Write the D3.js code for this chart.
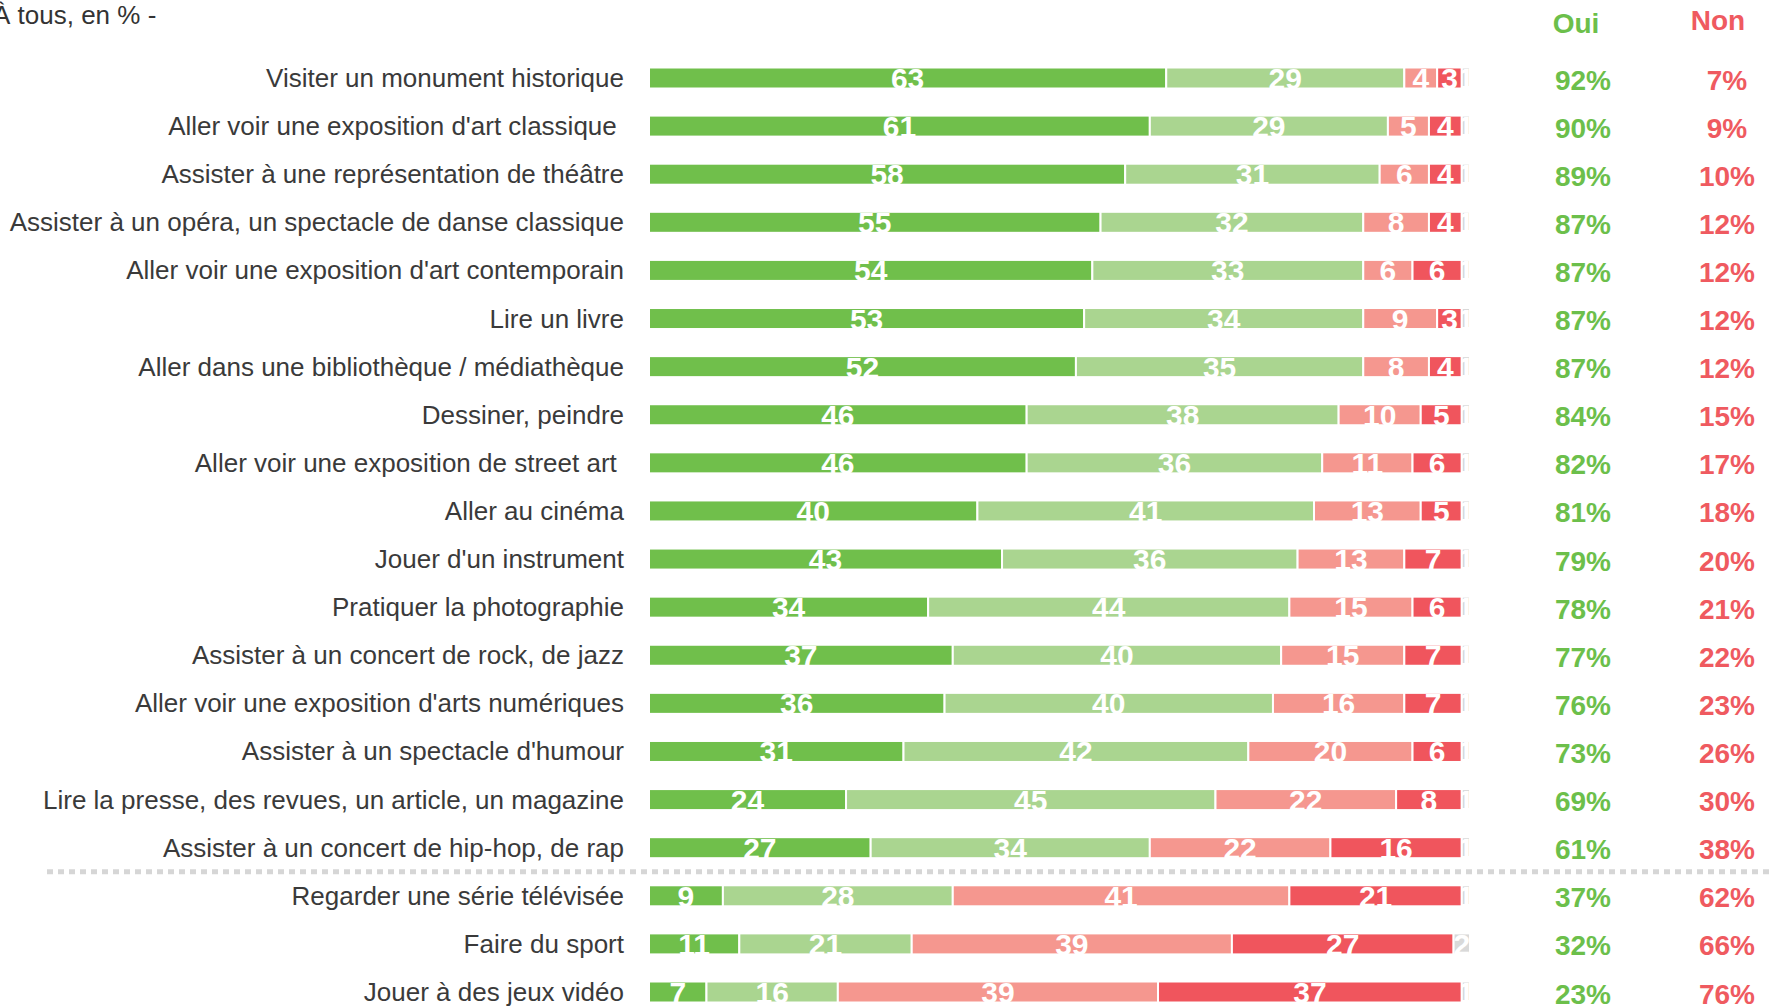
<!DOCTYPE html>
<html>
<head>
<meta charset="utf-8">
<script src="https://cdn.jsdelivr.net/npm/d3@7"></script>
<style>
  body { margin: 0; background: #fff; }
  svg { display: block; }
</style>
</head>
<body>
<svg id="chart" width="1773" height="1007"></svg>
<script>
const categories = [
    "Visiter un monument historique",
    "Aller voir une exposition d'art classique ",
    "Assister à une représentation de théâtre",
    "Assister à un opéra, un spectacle de danse classique",
    "Aller voir une exposition d'art contemporain",
    "Lire un livre",
    "Aller dans une bibliothèque / médiathèque",
    "Dessiner, peindre",
    "Aller voir une exposition de street art ",
    "Aller au cinéma",
    "Jouer d'un instrument",
    "Pratiquer la photographie",
    "Assister à un concert de rock, de jazz",
    "Aller voir une exposition d'arts numériques",
    "Assister à un spectacle d'humour",
    "Lire la presse, des revues, un article, un magazine",
    "Assister à un concert de hip-hop, de rap",
    "Regarder une série télévisée",
    "Faire du sport",
    "Jouer à des jeux vidéo"
];

// stacked segments: très envie, plutôt envie, plutôt pas, pas du tout, NSP
const ouiTout    = [63, 61, 58, 55, 54, 53, 52, 46, 46, 40, 43, 34, 37, 36, 31, 24, 27, 9, 11, 7];
const ouiPlutot  = [29, 29, 31, 32, 33, 34, 35, 38, 36, 41, 36, 44, 40, 40, 42, 45, 34, 28, 21, 16];
const nonPlutot  = [4, 5, 6, 8, 6, 9, 8, 10, 11, 13, 13, 15, 15, 16, 20, 22, 22, 41, 39, 39];
const nonPasDuTout = [3, 4, 4, 4, 6, 3, 4, 5, 6, 5, 7, 6, 7, 7, 6, 8, 16, 21, 27, 37];
const nsp        = [1, 1, 1, 1, 1, 1, 1, 1, 1, 1, 1, 1, 1, 1, 1, 1, 1, 1, 2, 1];

const totalOui = [92, 90, 89, 87, 87, 87, 87, 84, 82, 81, 79, 78, 77, 76, 73, 69, 61, 37, 32, 23];
const totalNon = [7, 9, 10, 12, 12, 12, 12, 15, 17, 18, 20, 21, 22, 23, 26, 30, 38, 62, 66, 76];

const series = [ouiTout, ouiPlutot, nonPlutot, nonPasDuTout, nsp];
const colors = ["#70bf4b", "#aad590", "#f5978f", "#f0555d", "#d9d9d9"];

const svg = d3.select("#chart");
const font = "'Liberation Sans', Arial, sans-serif";

const x = d3.scaleLinear().domain([0, 100]).range([649, 1470]);
const y = d3.scalePoint().domain(categories).range([78, 992]);
const barH = 21;

// title
svg.append("text")
    .attr("x", -7)
    .attr("y", 24)
    .attr("font-family", font)
    .attr("font-size", 26)
    .attr("fill", "#333")
    .text("À tous, en % -");

// headers
svg.append("text")
    .attr("x", 1576).attr("y", 33)
    .attr("text-anchor", "middle")
    .attr("font-family", font).attr("font-weight", "bold").attr("font-size", 28)
    .attr("fill", "#6cbf4b")
    .text("Oui");
svg.append("text")
    .attr("x", 1718).attr("y", 30)
    .attr("text-anchor", "middle")
    .attr("font-family", font).attr("font-weight", "bold").attr("font-size", 28)
    .attr("fill", "#ef5a60")
    .text("Non");

// category labels
svg.append("g")
    .selectAll("text")
    .data(categories)
    .join("text")
    .attr("x", 624)
    .attr("y", d => y(d) + 9)
    .attr("text-anchor", "end")
    .attr("font-family", font)
    .attr("font-size", 26)
    .attr("fill", "#3a3a3a")
    .style("white-space", "pre")
    .text(d => d);

// stacked rows
const rows = categories.map((c, i) => {
    let acc = 0;
    return series.map((s, k) => {
        const seg = {cat: c, k: k, v: s[i], x0: acc, x1: acc + s[i]};
        acc += s[i];
        return seg;
    });
});
const segs = rows.flat();

const defs = svg.append("defs");
defs.selectAll("clipPath")
    .data(segs)
    .join("clipPath")
    .attr("id", (d, i) => "clip" + i)
    .append("rect")
    .attr("x", d => x(d.x0))
    .attr("y", d => y(d.cat) - 20)
    .attr("width", d => x(d.x1) - x(d.x0))
    .attr("height", 40);

const bars = svg.append("g");
bars.selectAll("rect")
    .data(segs)
    .join("rect")
    .attr("x", d => x(d.x0))
    .attr("y", d => y(d.cat) - barH / 2)
    .attr("width", d => x(d.x1) - x(d.x0))
    .attr("height", barH)
    .attr("fill", d => colors[d.k])
    .attr("stroke", "#fff")
    .attr("stroke-width", 2);

bars.selectAll("text")
    .data(segs.filter(d => d.v > 0))
    .join("text")
    .attr("clip-path", d => `url(#clip${segs.indexOf(d)})`)
    .attr("x", d => (x(d.x0) + x(d.x1)) / 2)
    .attr("y", d => y(d.cat) + 11)
    .attr("text-anchor", "middle")
    .attr("font-family", font)
    .attr("font-weight", "bold")
    .attr("font-size", 30)
    .attr("fill", "#fff")
    .text(d => d.v);

// separator
svg.append("line")
    .attr("x1", 47).attr("x2", 1773)
    .attr("y1", (y(categories[16]) + y(categories[17])) / 2)
    .attr("y2", (y(categories[16]) + y(categories[17])) / 2)
    .attr("stroke", "#d6d6d6")
    .attr("stroke-width", 5)
    .attr("stroke-dasharray", "6 5");

// totals
svg.append("g")
    .selectAll("text")
    .data(categories)
    .join("text")
    .attr("x", 1583)
    .attr("y", d => y(d) + 11.5)
    .attr("text-anchor", "middle")
    .attr("font-family", font).attr("font-weight", "bold").attr("font-size", 28)
    .attr("fill", "#6cbf4b")
    .text((d, i) => totalOui[i] + "%");

svg.append("g")
    .selectAll("text")
    .data(categories)
    .join("text")
    .attr("x", 1727)
    .attr("y", d => y(d) + 11.5)
    .attr("text-anchor", "middle")
    .attr("font-family", font).attr("font-weight", "bold").attr("font-size", 28)
    .attr("fill", "#ef5a60")
    .text((d, i) => totalNon[i] + "%");
</script>
</body>
</html>
